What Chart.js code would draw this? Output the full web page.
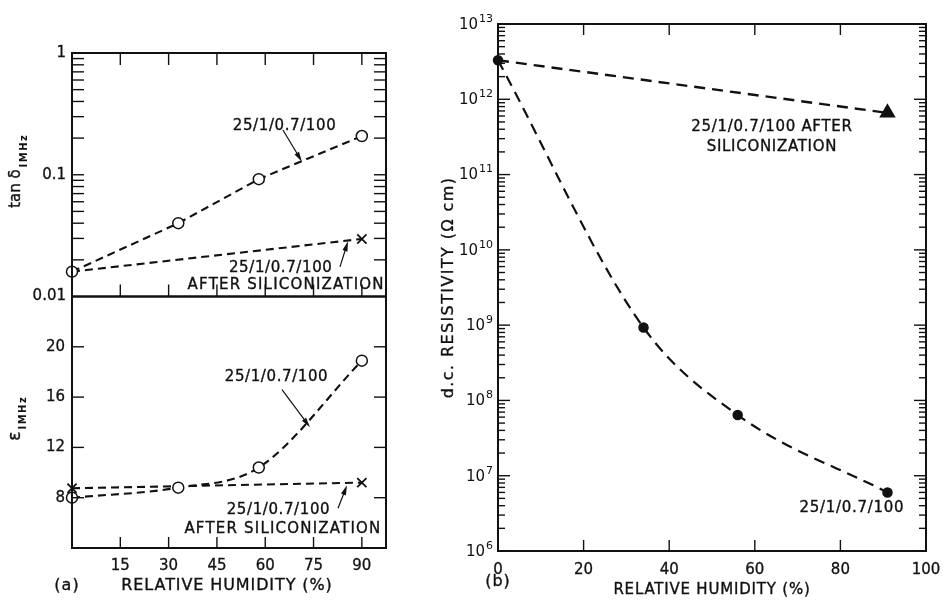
<!DOCTYPE html>
<html>
<head>
<meta charset="utf-8">
<title>Humidity dependence of tan δ, ε and d.c. resistivity</title>
<script src="https://cdn.jsdelivr.net/npm/chart.js@4.4.1/dist/chart.umd.min.js"></script>
<style>
    body { margin: 0; background: #fff; }
    #wrap { position: relative; width: 943px; height: 600px; background: #fff; overflow: hidden; }
    canvas { position: absolute; top: 0; }
</style>
</head>
<body>
<div id="wrap">
    <canvas id="chartA" width="420" height="600" style="left:0"></canvas>
    <canvas id="chartB" width="523" height="600" style="left:420px"></canvas>
</div>
<script>
// ---- panel (a) data ----
const humidityA = [0, 33, 58, 90];
const tanDeltaA = [0.016, 0.04, 0.092, 0.208];
const humiditySilA = [0, 90];
const tanDeltaSilA = [0.016, 0.0297];
const permittivityA = [8.0, 8.8, 10.4, 18.9];
const permittivitySilA = [8.75, 9.2];
const humidityTicksA = [15, 30, 45, 60, 75, 90];
const tanTicks = [0.01, 0.1, 1];
const tanTickLabels = ['0.01', '0.1', '1'];
const epsTicks = [8, 12, 16, 20];

// ---- panel (b) data ----
const humidityB = [0, 34, 56, 91];
const resistivityB = [3.3e12, 9.3e8, 6.4e7, 6.0e6];
const humiditySilB = [0, 91];
const resistivitySilB = [3.3e12, 6.6e11];
const humidityTicksB = [0, 20, 40, 60, 80, 100];
const resistivityExps = [6, 7, 8, 9, 10, 11, 12, 13];

const sampleName = '25/1/0.7/100';
const INK = '#111';
const FONT = '"DejaVu Sans", sans-serif';

Chart.defaults.font.family = FONT;
Chart.defaults.color = INK;

const pts = (xs, ys) => xs.map((x, i) => ({ x: x, y: ys[i] }));

// labels and arrows, placed in data units of each panel
const notesA = [
    { axis: 'yTan', text: sampleName, x: 66, y: 0.251 },
    { axis: 'yTan', text: sampleName, x: 64.8, y: 0.0171 },
    { axis: 'yTan', text: 'AFTER SILICONIZATION', x: 66.5, y: 0.01242, wide: true },
    { axis: 'yEps', text: sampleName, x: 63.5, y: 17.6 },
    { axis: 'yEps', text: sampleName, x: 64.1, y: 7.0 },
    { axis: 'yEps', text: 'AFTER SILICONIZATION', x: 65.5, y: 5.52, wide: true },
];
const arrowsA = [
    { axis: 'yTan', from: [65.5, 0.233], to: [71.4, 0.128] },
    { axis: 'yTan', from: [83.2, 0.0175], to: [85.7, 0.0284] },
    { axis: 'yEps', from: [65.2, 16.6], to: [73.9, 13.6] },
    { axis: 'yEps', from: [82.6, 7.16], to: [85.4, 9.0] },
];
const notesB = [
    { text: sampleName + ' AFTER', x: 64, y: 4.3e11 },
    { text: 'SILICONIZATION', x: 64, y: 2.3e11 },
    { text: sampleName, x: 82.7, y: 3.7e6 },
];

function seg(ctx, x1, y1, x2, y2) {
    ctx.beginPath();
    ctx.moveTo(x1, y1);
    ctx.lineTo(x2, y2);
    ctx.stroke();
}

// lettering is a bit heavier than the font, so add a thin outline
function text(ctx, str, x, y, size, spacing) {
    ctx.font = size + 'px ' + FONT;
    ctx.letterSpacing = (spacing || 0) + 'px';
    ctx.textAlign = 'center';
    ctx.textBaseline = 'middle';
    ctx.lineWidth = 0.35;
    ctx.fillText(str, x, y);
    ctx.strokeText(str, x, y);
    ctx.letterSpacing = '0px';
}

function arrow(ctx, x1, y1, x2, y2) {
    const a = Math.atan2(y2 - y1, x2 - x1);
    ctx.lineWidth = 1.2;
    seg(ctx, x1, y1, x2 - 6 * Math.cos(a), y2 - 6 * Math.sin(a));
    ctx.beginPath();
    ctx.moveTo(x2, y2);
    ctx.lineTo(x2 - 10 * Math.cos(a) + 2.6 * Math.sin(a), y2 - 10 * Math.sin(a) - 2.6 * Math.cos(a));
    ctx.lineTo(x2 - 10 * Math.cos(a) - 2.6 * Math.sin(a), y2 - 10 * Math.sin(a) + 2.6 * Math.cos(a));
    ctx.closePath();
    ctx.fill();
}

// rotated axis title with a subscript, e.g. tan δ_1MHz
function sideTitle(ctx, cx, cy, main, sub, mainSize, subSize, subShift) {
    ctx.save();
    ctx.translate(cx, cy);
    ctx.rotate(-Math.PI / 2);
    ctx.textAlign = 'left';
    ctx.textBaseline = 'middle';
    ctx.lineWidth = 0.4;
    ctx.font = mainSize + 'px ' + FONT;
    const w1 = ctx.measureText(main).width;
    ctx.font = 'bold ' + subSize + 'px ' + FONT;
    ctx.letterSpacing = '1.5px';
    const w2 = sub ? ctx.measureText(sub).width : 0;
    const start = -(w1 + w2 + 2) / 2;
    if (sub) ctx.fillText(sub, start + w1 + 2, subShift);
    ctx.letterSpacing = '0px';
    ctx.font = mainSize + 'px ' + FONT;
    ctx.fillText(main, start, 0);
    ctx.strokeText(main, start, 0);
    ctx.restore();
}

const lineStyle = {
    borderColor: INK,
    borderWidth: 2.1,
    borderDash: [8, 5],
    fill: false,
    clip: false,
    pointBorderColor: INK,
    pointBorderWidth: 1.5,
};

const tickFont = { padding: 9, font: { size: 15 }, color: INK, textStrokeColor: INK, textStrokeWidth: 0.3 };

// keep the plot frame where it is even when end labels stick out
const noLabelPadding = (s) => { s.paddingLeft = 0; s.paddingRight = 0; };

const panelA = {
    id: 'panelA',
    afterDraw(chart) {
        const { ctx, chartArea: area, scales } = chart;
        const x = scales.x, yT = scales.yTan, yE = scales.yEps;
        ctx.save();
        ctx.strokeStyle = INK;
        ctx.fillStyle = INK;
        ctx.lineWidth = 2;
        ctx.strokeRect(area.left, yT.top, area.right - area.left, yT.bottom - yT.top);
        ctx.strokeRect(area.left, yE.top, area.right - area.left, yE.bottom - yE.top);

        ctx.lineWidth = 1.4;
        humidityTicksA.forEach((v) => {
            const px = x.getPixelForValue(v);
            seg(ctx, px, yE.bottom, px, yE.bottom - 11);
            seg(ctx, px, yT.bottom, px, yT.bottom - 12);
            seg(ctx, px, yT.top, px, yT.top + 12);
        });
        [0.01, 0.1].forEach((d) => {
            for (let k = 2; k <= 10; k++) {
                if (d === 0.1 && k === 10) continue;
                const py = yT.getPixelForValue(k * d);
                seg(ctx, area.left, py, area.left + 12, py);
                seg(ctx, area.right, py, area.right - 12, py);
            }
        });
        epsTicks.forEach((v) => {
            const py = yE.getPixelForValue(v);
            seg(ctx, area.left, py, area.left + 12, py);
            seg(ctx, area.right, py, area.right - 12, py);
        });

        notesA.forEach((n) => {
            text(ctx, n.text, x.getPixelForValue(n.x), scales[n.axis].getPixelForValue(n.y), 15, n.wide ? 1.2 : 0.6);
        });
        arrowsA.forEach((a) => {
            const s = scales[a.axis];
            arrow(ctx, x.getPixelForValue(a.from[0]), s.getPixelForValue(a.from[1]),
                x.getPixelForValue(a.to[0]), s.getPixelForValue(a.to[1]));
        });

        sideTitle(ctx, 16, (yT.top + yT.bottom) / 2 - 4, 'tan δ', 'IMHz', 15, 10, 8);
        sideTitle(ctx, 16, (yE.top + yE.bottom) / 2 - 4, 'ε', 'IMHz', 17, 10, 7);

        text(ctx, 'RELATIVE HUMIDITY (%)', (area.left + area.right) / 2 - 2, area.bottom + 38, 16, 0.9);
        text(ctx, '(a)', 67, area.bottom + 38, 16, 1);
        ctx.restore();
    },
};

const panelB = {
    id: 'panelB',
    afterDraw(chart) {
        const { ctx, chartArea: area, scales } = chart;
        const x = scales.x, y = scales.y;
        ctx.save();
        ctx.strokeStyle = INK;
        ctx.fillStyle = INK;
        ctx.lineWidth = 2;
        ctx.strokeRect(area.left, area.top, area.right - area.left, area.bottom - area.top);

        ctx.lineWidth = 1.4;
        humidityTicksB.slice(1, -1).forEach((v) => {
            const px = x.getPixelForValue(v);
            seg(ctx, px, area.bottom, px, area.bottom - 11);
            seg(ctx, px, area.top, px, area.top + 11);
        });
        resistivityExps.forEach((e) => {
            for (let k = 1; k <= 9; k++) {
                if (e === 13 && k > 1) continue;
                const py = y.getPixelForValue(k * Math.pow(10, e));
                const len = k === 1 ? 12 : 7;
                seg(ctx, area.left, py, area.left + len, py);
                seg(ctx, area.right, py, area.right - len, py);
            }
            // tick label 10^e
            const py = y.getPixelForValue(Math.pow(10, e));
            const xr = area.left - 5;
            ctx.textAlign = 'right';
            ctx.textBaseline = 'middle';
            ctx.font = '11px ' + FONT;
            const we = ctx.measureText(String(e)).width;
            ctx.fillText(String(e), xr, py - 5);
            ctx.font = '15px ' + FONT;
            ctx.fillText('10', xr - we - 1, py + 1);
        });

        notesB.forEach((n) => {
            text(ctx, n.text, x.getPixelForValue(n.x), y.getPixelForValue(n.y), 15, 0.7);
        });

        ctx.save();
        ctx.translate(area.left - 49, (area.top + area.bottom) / 2);
        ctx.rotate(-Math.PI / 2);
        text(ctx, 'd.c. RESISTIVITY (Ω cm)', 0, 0, 16, 1.4);
        ctx.restore();

        text(ctx, 'RELATIVE HUMIDITY (%)', (area.left + area.right) / 2, area.bottom + 39, 15, 0.8);
        text(ctx, '(b)', x.getPixelForValue(0), area.bottom + 31, 16, 1);
        ctx.restore();
    },
};

const hidden = { grid: { display: false, drawTicks: false }, border: { display: false } };

new Chart(document.getElementById('chartA'), {
    type: 'line',
    data: {
        datasets: [
            {
                ...lineStyle,
                data: pts(humidityA, tanDeltaA),
                yAxisID: 'yTan',
                pointStyle: 'circle',
                pointRadius: 5.5,
                pointBackgroundColor: '#fff',
            },
            {
                ...lineStyle,
                data: pts(humiditySilA, tanDeltaSilA),
                yAxisID: 'yTan',
                pointStyle: 'crossRot',
                pointRadius: [0, 6.5],
                pointBorderWidth: 1.8,
            },
            {
                ...lineStyle,
                data: pts(humidityA, permittivityA),
                yAxisID: 'yEps',
                cubicInterpolationMode: 'monotone',
                pointStyle: 'circle',
                pointRadius: 5.5,
                pointBackgroundColor: '#fff',
            },
            {
                ...lineStyle,
                data: pts(humiditySilA, permittivitySilA),
                yAxisID: 'yEps',
                pointStyle: 'crossRot',
                pointRadius: 6.5,
                pointBorderWidth: 1.8,
            },
        ],
    },
    options: {
        responsive: false,
        animation: false,
        events: [],
        layout: { padding: { left: 0, top: 53, right: 34, bottom: 0 } },
        plugins: { legend: { display: false }, tooltip: { enabled: false } },
        scales: {
            x: {
                ...hidden,
                type: 'linear',
                min: 0,
                max: 97.5,
                afterBuildTicks: (s) => { s.ticks = humidityTicksA.map((v) => ({ value: v })); },
                afterFit: (s) => { s.height = 52; noLabelPadding(s); },
                ticks: { ...tickFont },
            },
            yEps: {
                ...hidden,
                type: 'linear',
                position: 'left',
                stack: 'a',
                stackWeight: 251.5,
                min: 4,
                max: 24,
                afterBuildTicks: (s) => { s.ticks = epsTicks.map((v) => ({ value: v })); },
                afterFit: (s) => { s.width = 72; },
                ticks: { ...tickFont, padding: 7 },
            },
            yTan: {
                ...hidden,
                type: 'logarithmic',
                position: 'left',
                stack: 'a',
                stackWeight: 243.5,
                min: 0.01,
                max: 1,
                afterBuildTicks: (s) => { s.ticks = tanTicks.map((v) => ({ value: v })); },
                afterFit: (s) => { s.width = 72; },
                ticks: {
                    ...tickFont,
                    padding: 6,
                    callback: (v, i) => tanTickLabels[i],
                },
            },
        },
    },
    plugins: [panelA],
});

new Chart(document.getElementById('chartB'), {
    type: 'line',
    data: {
        datasets: [
            {
                ...lineStyle,
                borderWidth: 2.2,
                borderDash: [11, 7],
                data: pts(humidityB, resistivityB),
                cubicInterpolationMode: 'monotone',
                pointStyle: 'circle',
                pointRadius: 4.5,
                pointBackgroundColor: INK,
            },
            {
                ...lineStyle,
                borderWidth: 2.4,
                borderDash: [11, 7],
                data: pts(humiditySilB, resistivitySilB),
                pointStyle: 'triangle',
                pointRadius: [0, 8],
                pointBackgroundColor: INK,
            },
        ],
    },
    options: {
        responsive: false,
        animation: false,
        events: [],
        layout: { padding: { left: 0, top: 24, right: 17, bottom: 0 } },
        plugins: { legend: { display: false }, tooltip: { enabled: false } },
        scales: {
            x: {
                ...hidden,
                type: 'linear',
                min: 0,
                max: 100,
                afterBuildTicks: (s) => { s.ticks = humidityTicksB.map((v) => ({ value: v })); },
                afterFit: (s) => { s.height = 49; noLabelPadding(s); },
                ticks: { ...tickFont, padding: 10 },
            },
            y: {
                ...hidden,
                type: 'logarithmic',
                min: 1e6,
                max: 1e13,
                afterFit: (s) => { s.width = 78; },
                ticks: { display: false },
            },
        },
    },
    plugins: [panelB],
});
</script>
</body>
</html>
